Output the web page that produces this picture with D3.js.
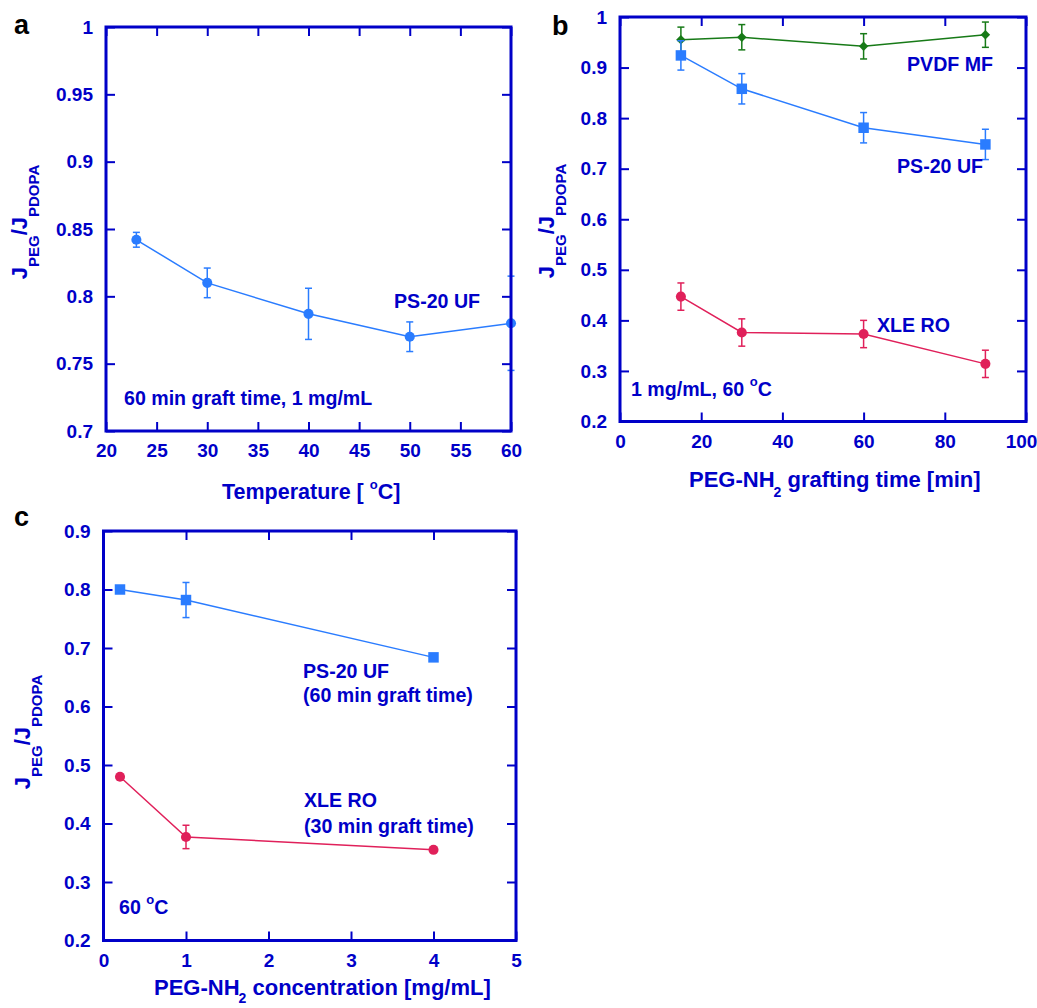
<!DOCTYPE html>
<html>
<head>
<meta charset="utf-8">
<script src="https://cdn.jsdelivr.net/npm/d3@7"></script>
<style>
  body { margin: 0; background: #fff; }
  svg { font-family: "Liberation Sans", Arial, sans-serif; font-weight: bold; }
</style>
</head>
<body>
<script>
// panel a: temperature series (PS-20 UF)
var tempC = [23, 30, 40, 50, 60]
var tempRatio = [0.842, 0.810, 0.787, 0.770, 0.780]
var tempErr = [0.0055, 0.011, 0.019, 0.011, 0.035]

// panel b: grafting time
var graftTime = [15, 30, 60, 90]
var pvdfRatio = [0.955, 0.960, 0.942, 0.965]
var pvdfErr = [0.025, 0.025, 0.025, 0.025]
var ps20Ratio = [0.924, 0.858, 0.781, 0.748]
var ps20Err = [0.029, 0.030, 0.030, 0.030]
var xleRatio = [0.447, 0.376, 0.373, 0.314]
var xleErr = [0.027, 0.027, 0.027, 0.027]

// panel c: concentration
var concMg = [0.2, 1, 4]
var ps20ConcRatio = [0.800, 0.782, 0.684]
var ps20ConcErr = [0, 0.030, 0]
var xleConcRatio = [0.480, 0.377, 0.355]
var xleConcErr = [0, 0.020, 0]

// tick labels
var xTicksA = [20, 25, 30, 35, 40, 45, 50, 55, 60]
var yTicksA = [0.7, 0.75, 0.8, 0.85, 0.9, 0.95, 1]
var xTicksB = [0, 20, 40, 60, 80, 100]
var yTicksB = [0.2, 0.3, 0.4, 0.5, 0.6, 0.7, 0.8, 0.9, 1]
var xTicksC = [0, 1, 2, 3, 4, 5]
var yTicksC = [0.2, 0.3, 0.4, 0.5, 0.6, 0.7, 0.8, 0.9]

var AX = '#0000c8'
var BLUE = '#2a7cff'
var RED = '#e0205a'
var GREEN = '#177a17'

var svg = d3.select('body').append('svg')
	.attr('width', 1037)
	.attr('height', 1008)

function drawPanel(p){
	var x = d3.scaleLinear().domain(p.xDomain).range([p.x0, p.x1])
	var y = d3.scaleLinear().domain(p.yDomain).range([p.y1, p.y0])
	var g = svg.append('g')

	function styleAxis(sel){
		sel.select('.domain').remove()
		sel.selectAll('line').attr('stroke', AX).attr('stroke-width', 2)
		sel.selectAll('text').attr('fill', AX).style('font-size', '19px')
			.style('font-family', '"Liberation Sans", Arial, sans-serif').style('font-weight', 'bold')
	}

	p.series.forEach(function(s){
		var pts = s.xs.map(function(v, i){ return { x: v, y: s.ys[i], e: s.errs[i] } })
		var line = d3.line().x(function(d){ return x(d.x) }).y(function(d){ return y(d.y) })
		g.append('path').datum(pts).attr('d', line)
			.attr('fill', 'none').attr('stroke', s.color).attr('stroke-width', 1.5)

		var eb = g.selectAll(null).data(pts.filter(function(d){ return d.e > 0 })).enter().append('g')
			.attr('stroke', s.color).attr('stroke-width', 1.5)
		eb.append('line')
			.attr('x1', function(d){ return x(d.x) }).attr('x2', function(d){ return x(d.x) })
			.attr('y1', function(d){ return y(d.y - d.e) }).attr('y2', function(d){ return y(d.y + d.e) })
		eb.append('line')
			.attr('x1', function(d){ return x(d.x) - 3.5 }).attr('x2', function(d){ return x(d.x) + 3.5 })
			.attr('y1', function(d){ return y(d.y + d.e) }).attr('y2', function(d){ return y(d.y + d.e) })
		eb.append('line')
			.attr('x1', function(d){ return x(d.x) - 3.5 }).attr('x2', function(d){ return x(d.x) + 3.5 })
			.attr('y1', function(d){ return y(d.y - d.e) }).attr('y2', function(d){ return y(d.y - d.e) })

		var sym = d3.symbol().type(s.marker === 'circle' ? d3.symbolCircle : d3.symbolSquare)
			.size(s.marker === 'circle' ? 80 : (s.marker === 'square' ? 110 : 45))
		g.selectAll(null).data(pts).enter().append('path')
			.attr('d', sym)
			.attr('transform', function(d){
				return 'translate(' + x(d.x) + ',' + y(d.y) + ')' + (s.marker === 'diamond' ? ' rotate(45)' : '')
			})
			.attr('fill', s.color)
	})

	g.append('g').attr('transform', 'translate(' + p.x0 + ',0)')
		.call(d3.axisLeft(y).tickValues(p.yTicks).tickSize(-9).tickPadding(13).tickFormat(d3.format('')))
		.call(styleAxis)
	var bx = g.append('g').attr('transform', 'translate(0,' + p.y1 + ')')
		.call(d3.axisBottom(x).tickValues(p.xTicks).tickSize(-9).tickPadding(13).tickFormat(d3.format('')))
		.call(styleAxis)
	if (p.lastTickShift) bx.selectAll('text').filter(function(d, i, n){ return i === n.length - 1 })
		.attr('dx', p.lastTickShift)
	g.append('g').attr('transform', 'translate(' + p.x1 + ',0)')
		.call(d3.axisRight(y).tickValues(p.yTicks).tickSize(-9).tickFormat(''))
		.call(styleAxis)
	g.append('g').attr('transform', 'translate(0,' + p.y0 + ')')
		.call(d3.axisTop(x).tickValues(p.xTicks).tickSize(-9).tickFormat(''))
		.call(styleAxis)

	g.append('rect')
		.attr('x', p.x0).attr('y', p.y0)
		.attr('width', p.x1 - p.x0).attr('height', p.y1 - p.y0)
		.attr('fill', 'none').attr('stroke', AX).attr('stroke-width', 3)

	// y title
	var yt = g.append('text')
		.attr('transform', 'translate(' + p.ytX + ',' + p.ytY + ') rotate(-90)')
		.attr('text-anchor', 'middle').attr('fill', AX)
	yt.append('tspan').text('J').style('font-size', '22px')
	yt.append('tspan').text('PEG').style('font-size', '15px').attr('dy', 12)
	yt.append('tspan').text('/J').style('font-size', '22px').attr('dy', -12)
	yt.append('tspan').text('PDOPA').style('font-size', '15px').attr('dy', 12)

	// panel letter
	g.append('text').attr('x', p.letterX).attr('y', p.letterY)
		.text(p.letter).attr('fill', '#000').style('font-size', '27px')

	return { g: g, x: x, y: y }
}

function label(g, x, y, parts, size){
	var t = g.append('text').attr('x', x).attr('y', y).attr('fill', AX).style('font-size', (size || 19.6) + 'px')
	parts.forEach(function(pt){
		var ts = t.append('tspan').text(pt.t)
		if (pt.s) ts.style('font-size', pt.s + 'px')
		if (pt.dy) ts.attr('dy', pt.dy)
		if (pt.dx) ts.attr('dx', pt.dx)
	})
	return t
}

// panel a
var a = drawPanel({
	x0: 106, y0: 27, x1: 511, y1: 431,
	xDomain: [20, 60], yDomain: [0.7, 1],
	xTicks: xTicksA, yTicks: yTicksA,
	ytX: 27, ytY: 222, letter: 'a', letterX: 14, letterY: 34,
	series: [{ xs: tempC, ys: tempRatio, errs: tempErr, color: BLUE, marker: 'circle' }]
})
label(a.g, 394, 308, [{ t: 'PS-20 UF' }])
label(a.g, 124, 405, [{ t: '60 min graft time, 1 mg/mL' }])
label(a.g, 222, 499, [{ t: 'Temperature [ ' }, { t: 'o', s: 13, dy: -10 }, { t: 'C]', dy: 10 }], 21.5)

// panel b
var b = drawPanel({
	x0: 620, y0: 17, x1: 1026, y1: 421.5,
	xDomain: [0, 100], yDomain: [0.2, 1],
	xTicks: xTicksB, yTicks: yTicksB, lastTickShift: -5,
	ytX: 554, ytY: 221, letter: 'b', letterX: 552, letterY: 35,
	series: [
		{ xs: graftTime, ys: pvdfRatio, errs: pvdfErr, color: GREEN, marker: 'diamond' },
		{ xs: graftTime, ys: ps20Ratio, errs: ps20Err, color: BLUE, marker: 'square' },
		{ xs: graftTime, ys: xleRatio, errs: xleErr, color: RED, marker: 'circle' }
	]
})
label(b.g, 907, 71, [{ t: 'PVDF MF' }])
label(b.g, 897, 173, [{ t: 'PS-20 UF' }])
label(b.g, 877, 332, [{ t: 'XLE RO' }])
label(b.g, 631, 396, [{ t: '1 mg/mL, 60 ' }, { t: 'o', s: 13, dy: -10 }, { t: 'C', dy: 10 }])
label(b.g, 689, 487, [{ t: 'PEG-NH' }, { t: '2', s: 14, dy: 10, dx: -1 }, { t: ' grafting time [min]', dy: -10 }], 22)

// panel c
var c = drawPanel({
	x0: 103.5, y0: 531, x1: 516, y1: 940.5,
	xDomain: [0, 5], yDomain: [0.2, 0.9],
	xTicks: xTicksC, yTicks: yTicksC,
	ytX: 30, ytY: 732, letter: 'c', letterX: 14, letterY: 526,
	series: [
		{ xs: concMg, ys: ps20ConcRatio, errs: ps20ConcErr, color: BLUE, marker: 'square' },
		{ xs: concMg, ys: xleConcRatio, errs: xleConcErr, color: RED, marker: 'circle' }
	]
})
label(c.g, 303, 678, [{ t: 'PS-20 UF' }])
label(c.g, 303, 702, [{ t: '(60 min graft time)' }])
label(c.g, 304, 807, [{ t: 'XLE RO' }])
label(c.g, 304, 833, [{ t: '(30 min graft time)' }])
label(c.g, 119, 914, [{ t: '60 ' }, { t: 'o', s: 13, dy: -10 }, { t: 'C', dy: 10 }])
label(c.g, 154, 995, [{ t: 'PEG-NH' }, { t: '2', s: 14, dy: 8, dx: -1 }, { t: ' concentration [mg/mL]', dy: -8 }], 22)
</script>
</body>
</html>
